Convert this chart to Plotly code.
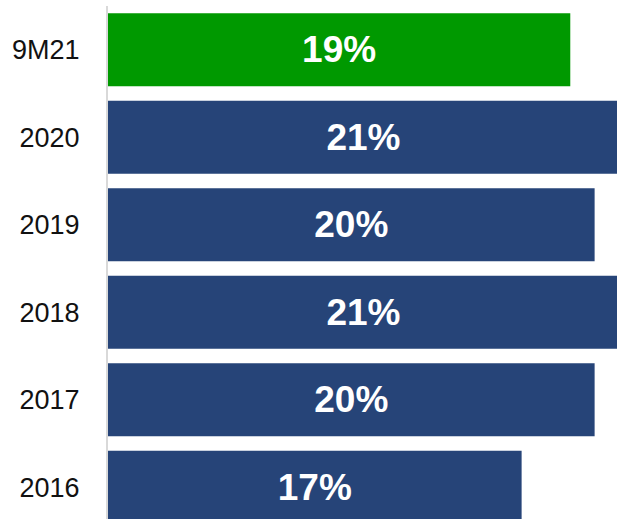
import plotly.graph_objects as go

# Return figures by period, listed bottom to top
periods = ["2016", "2017", "2018", "2019", "2020", "9M21"]
values = [17, 20, 21, 20, 21, 19]
labels = ["17%", "20%", "21%", "20%", "21%", "19%"]

navy = "#264478"
green = "#009900"
colors = [green if p == "9M21" else navy for p in periods]

fig = go.Figure(
    go.Bar(
        x=values,
        y=periods,
        orientation="h",
        width=0.834,
        marker=dict(color=colors, line=dict(width=0)),
        text=labels,
        textposition="inside",
        insidetextanchor="middle",
        constraintext="none",
        textangle=0,
        textfont=dict(family="Liberation Sans", size=37, color="white", weight="bold"),
        cliponaxis=True,
        hoverinfo="skip",
    )
)

fig.update_layout(
    width=617,
    height=519,
    margin=dict(l=108, r=0, t=6, b=0),
    paper_bgcolor="white",
    plot_bgcolor="white",
    showlegend=False,
    xaxis=dict(
        range=[0, 20.92],
        showgrid=False,
        zeroline=False,
        showticklabels=False,
        showline=False,
        fixedrange=True,
    ),
    yaxis=dict(
        type="category",
        range=[-0.363, 5.5],
        showgrid=False,
        zeroline=False,
        showline=True,
        linecolor="#d9d9d9",
        linewidth=2,
        ticks="",
        ticklabelstandoff=21,
        tickfont=dict(family="Liberation Sans", size=27, color="#111111"),
        fixedrange=True,
    ),
)

fig.write_html("out.html")
